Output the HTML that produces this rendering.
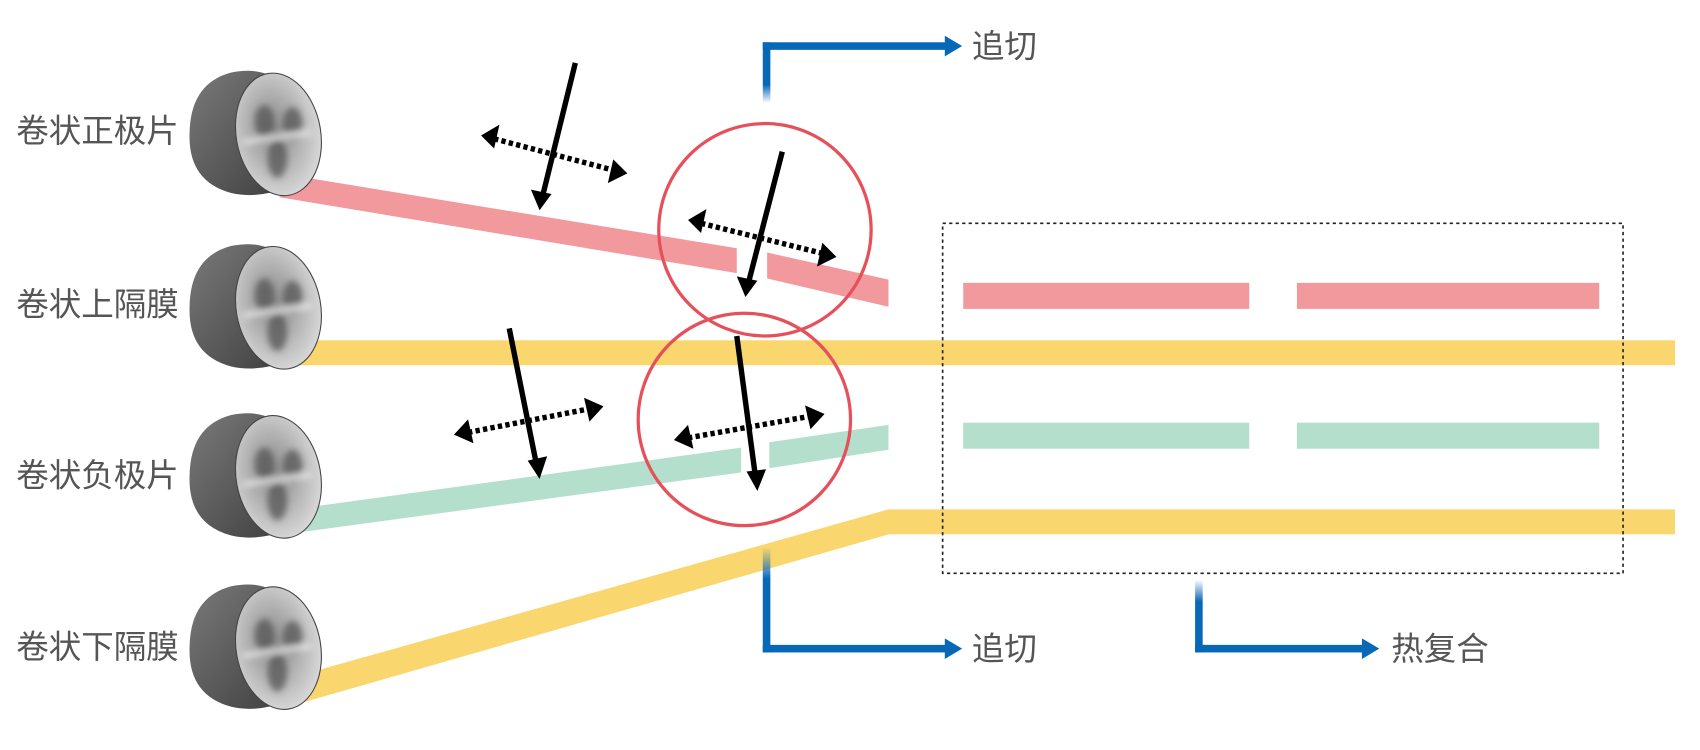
<!DOCTYPE html>
<html><head><meta charset="utf-8"><style>
html,body{margin:0;padding:0;background:#fff;width:1700px;height:750px;overflow:hidden}
svg{display:block}
text{font-family:"Liberation Sans","Noto Sans CJK SC",sans-serif;fill:#555;font-size:30px}
</style></head><body>
<svg width="1700" height="750" viewBox="0 0 1569 692" preserveAspectRatio="none">
<defs>
<linearGradient id="body" x1="0" y1="0" x2="1" y2="1">
<stop offset="0" stop-color="#7a7a7a"/><stop offset="1" stop-color="#3e3e3e"/></linearGradient>
<radialGradient id="face" cx="0.45" cy="0.45" r="0.65">
<stop offset="0" stop-color="#888"/><stop offset="0.45" stop-color="#b0b0b0"/><stop offset="1" stop-color="#e4e4e4"/></radialGradient>
<filter id="bl"><feGaussianBlur stdDeviation="3"/></filter>
<linearGradient id="fadeUp" x1="0" y1="1" x2="0" y2="0">
<stop offset="0" stop-color="#0868b8" stop-opacity="0"/><stop offset="0.3" stop-color="#0868b8"/><stop offset="1" stop-color="#0868b8"/></linearGradient>
<linearGradient id="fadeDown" x1="0" y1="0" x2="0" y2="1">
<stop offset="0" stop-color="#0868b8" stop-opacity="0"/><stop offset="0.3" stop-color="#0868b8"/><stop offset="1" stop-color="#0868b8"/></linearGradient>
<g id="roll">
<path d="M-5,-55 Q30,-62 45,-40 L50,50 Q20,62 -5,56 Q-45,45 -43,0 Q-42,-45 -5,-55Z" fill="url(#body)"/>
<ellipse cx="39" cy="2" rx="39" ry="57" transform="rotate(-10 39 2)" fill="url(#face)" stroke="#444" stroke-width="1"/>
<g filter="url(#bl)" opacity="0.75">
<ellipse cx="26" cy="-10" rx="9" ry="15" fill="#555"/>
<ellipse cx="52" cy="-8" rx="9" ry="15" fill="#555"/>
<ellipse cx="38" cy="24" rx="9" ry="18" fill="#555"/>
<rect x="6" y="2" width="64" height="5" fill="#eee" transform="rotate(-8 38 4)"/>
</g>
</g>
</defs>

<polygon points="258,160 680,229 680,252 258,182" fill="#f2999e"/>
<polygon points="708,233 820,258 820,283 708,257" fill="#f2999e"/>
<rect x="260" y="314" width="1286" height="23" fill="#f9d66e"/>
<polygon points="270,470 684,413 684,436 270,492" fill="#b5dfcd"/>
<polygon points="710,408 820,392 820,415 710,432" fill="#b5dfcd"/>
<polygon points="270,625 820,470 820,493 280,648" fill="#f9d66e"/>
<rect x="820" y="470" width="726" height="23" fill="#f9d66e"/>
<rect x="889" y="261" width="264" height="24" fill="#f2999e"/>
<rect x="1197" y="261" width="279" height="24" fill="#f2999e"/>
<rect x="889" y="390" width="264" height="24" fill="#b5dfcd"/>
<rect x="1197" y="390" width="279" height="24" fill="#b5dfcd"/>

<use href="#roll" x="218" y="122"/>
<use href="#roll" x="218" y="282"/>
<use href="#roll" x="218" y="438"/>
<use href="#roll" x="218" y="596"/>

<text x="15" y="131">卷状正极片</text>
<text x="15" y="291">卷状上隔膜</text>
<text x="15" y="449">卷状负极片</text>
<text x="15" y="607">卷状下隔膜</text>

<rect x="870" y="206" width="628" height="323" fill="none" stroke="#222" stroke-width="1.5" stroke-dasharray="3,3"/>

<circle cx="706" cy="212" r="98" fill="none" stroke="#e5505a" stroke-width="3"/>
<circle cx="687" cy="387" r="98" fill="none" stroke="#e5505a" stroke-width="3"/>

<g stroke="#000" stroke-width="5" fill="#000">
<line x1="531" y1="58" x2="501" y2="180"/>
<line x1="722" y1="140" x2="691" y2="260"/>
<line x1="470" y1="303" x2="495" y2="428"/>
<line x1="680" y1="310" x2="697" y2="438"/>
</g>
<g fill="#000">
<polygon points="498,194 490,175 509,179"/>
<polygon points="688,274 680,255 699,259"/>
<polygon points="498,442 487,425 505,421"/>
<polygon points="699,453 689,435 707,433"/>
</g>
<g stroke="#000" stroke-width="5" stroke-dasharray="4,3" fill="none">
<line x1="456" y1="128" x2="566" y2="157"/>
<line x1="647" y1="206" x2="760" y2="234"/>
<line x1="432" y1="399" x2="545" y2="377"/>
<line x1="635" y1="404" x2="748" y2="384"/>
</g>
<g fill="#000">
<polygon points="444,125 461,115 456,137"/>
<polygon points="579,160 561,169 566,147"/>
<polygon points="635,203 652,193 647,215"/>
<polygon points="772,237 754,246 759,224"/>
<polygon points="419,401 432,387 437,409"/>
<polygon points="557,375 544,389 539,367"/>
<polygon points="622,406 635,392 640,414"/>
<polygon points="761,382 748,396 743,374"/>
</g>

<rect x="704" y="39" width="7" height="56" fill="url(#fadeUp)"/>
<rect x="704" y="39" width="170" height="7" fill="#0868b8"/>
<polygon points="872,33 888,42.5 872,52" fill="#0868b8"/>
<text x="897" y="53">追切</text>

<rect x="704" y="505" width="7" height="97" fill="url(#fadeDown)"/>
<rect x="704" y="595" width="170" height="7" fill="#0868b8"/>
<polygon points="872,589 888,598.5 872,608" fill="#0868b8"/>
<text x="897" y="609">追切</text>

<rect x="1103" y="535" width="7" height="67" fill="url(#fadeDown)"/>
<rect x="1103" y="595" width="156" height="7" fill="#0868b8"/>
<polygon points="1257,589 1273,598.5 1257,608" fill="#0868b8"/>
<text x="1284" y="609">热复合</text>
</svg>
</body></html>
